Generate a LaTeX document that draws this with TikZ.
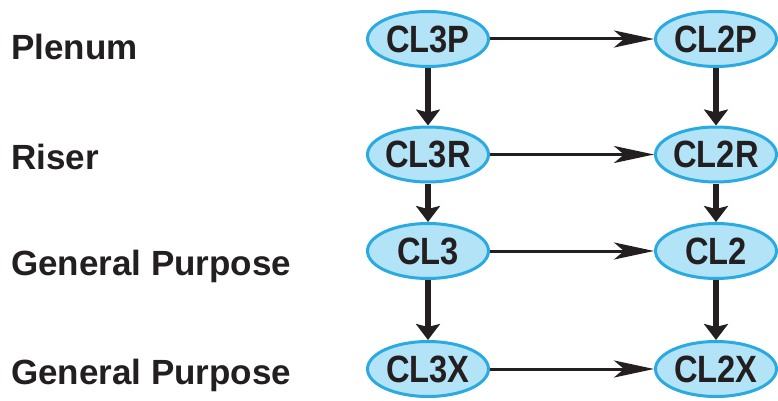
\documentclass[tikz,border=0pt]{standalone}
\usepackage{fontspec}
\setmainfont{Liberation Sans}
\newfontfamily\nodefnt[FakeStretch=0.86]{Liberation Sans}
\usetikzlibrary{arrows.meta,shapes.geometric}
\definecolor{ellfill}{HTML}{B3E3F6}
\definecolor{elldraw}{HTML}{2AAAE1}
\definecolor{ink}{HTML}{231F20}
\tikzset{
  cls/.style={ellipse, draw=elldraw, fill=ellfill, line width=3pt,
    minimum width=121pt, minimum height=55pt, inner sep=0pt,
    text=ink, font=\nodefnt\bfseries\fontsize{38}{38}\selectfont},
  lbl/.style={anchor=west, text=ink, inner sep=0pt,
    font=\bfseries\fontsize{35}{35}\selectfont},
  harr/.style={draw=ink, line width=3pt,
    -{Stealth[length=40pt,width=17pt,inset=10pt]}},
  varr/.style={draw=ink, line width=5.5pt,
    -{Stealth[length=16pt,width=24pt,inset=3pt]}},
}
\begin{document}
\begin{tikzpicture}[x=1pt,y=-1pt]
\useasboundingbox (0,0) rectangle (778,401);
\node[cls] (l1) at (428,39) {CL3P};
\node[cls] (r1) at (716,39) {CL2P};
\node[cls] (l2) at (428,154.5) {CL3R};
\node[cls] (r2) at (716,154.5) {CL2R};
\node[cls] (l3) at (428,251) {CL3};
\node[cls] (r3) at (716,251) {CL2};
\node[cls] (l4) at (428,369) {CL3X};
\node[cls] (r4) at (716,369) {CL2X};
\node[lbl] (t1) at (11,47) {Plenum};
\node[lbl] (t2) at (11,157) {Riser};
\node[lbl] (t3) at (11,266) {General Purpose};
\node[lbl] (t4) at (11,375) {General Purpose};
\foreach \i in {1,2,3,4} {\draw[harr] (l\i.east) -- (r\i.west);}
\draw[varr] (l1.south) -- (l2.north);
\draw[varr] (l2.south) -- (l3.north);
\draw[varr] (l3.south) -- (l4.north);
\draw[varr] (r1.south) -- (r2.north);
\draw[varr] (r2.south) -- (r3.north);
\draw[varr] (r3.south) -- (r4.north);
\end{tikzpicture}
\end{document}
